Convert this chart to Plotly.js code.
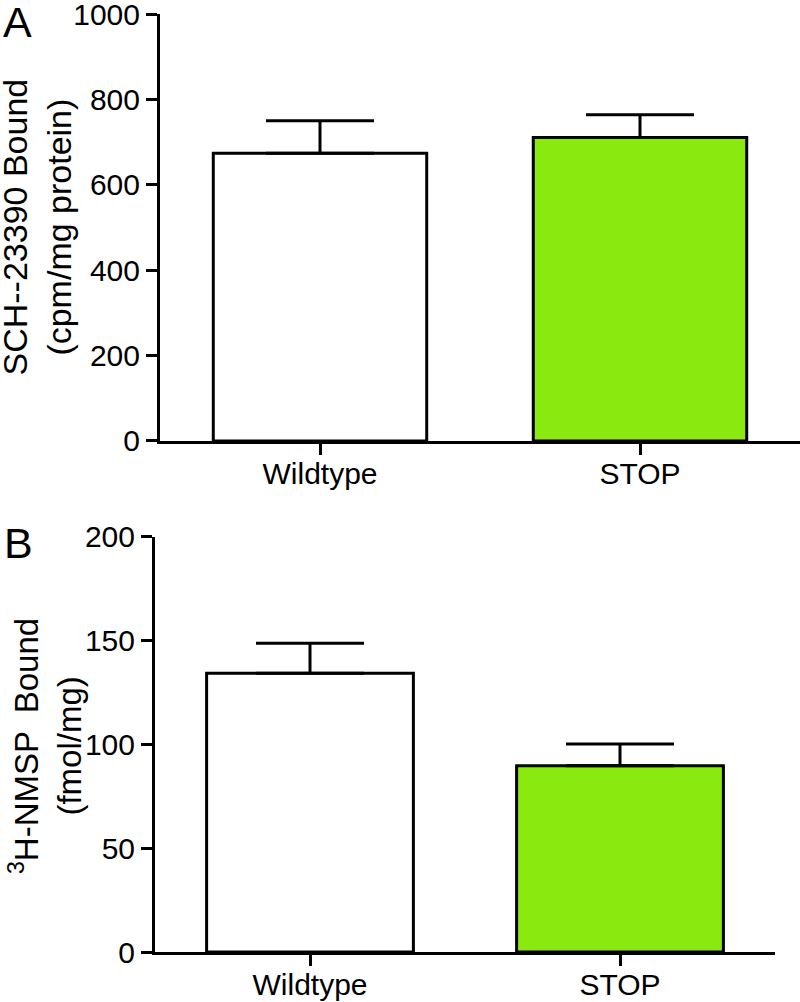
<!DOCTYPE html>
<html>
<head>
<meta charset="utf-8">
<script src="https://cdn.plot.ly/plotly-3.0.1.min.js"></script>
<style>html,body{margin:0;padding:0;background:#fff;}#chart{width:800px;height:1002px;}</style>
</head>
<body>
<div id="chart"></div>
<script>
// Data
var categories = ["Wildtype", "STOP"];
var barColors = ["#ffffff", "#8ae90e"];
// Panel A: SCH-23390 bound (cpm/mg protein)
var aValues = [674, 711];
var aErrors = [76, 53];
// Panel B: 3H-NMSP bound (fmol/mg)
var bValues = [134.3, 89.8];
var bErrors = [14.5, 10.4];
var aTicks = [0, 200, 400, 600, 800, 1000];
var bTicks = [0, 50, 100, 150, 200];

var FONT = "Arial, 'Liberation Sans', Helvetica, sans-serif";

function barTrace(vals, errs, xa, ya) {
  return {
    type: "bar",
    x: categories,
    y: vals,
    xaxis: xa,
    yaxis: ya,
    width: 0.667,
    marker: {color: barColors, line: {color: "#000", width: 3}},
    error_y: {type: "data", array: errs, arrayminus: errs.map(function(){return 0;}), symmetric: false,
              color: "#000", thickness: 3, width: 54},
    showlegend: false,
    hoverinfo: "skip"
  };
}

var traces = [
  barTrace(aValues, aErrors, "x", "y"),
  barTrace(bValues, bErrors, "x2", "y2")
];

function xAxis(domain, anchor) {
  return {
    domain: domain, anchor: anchor, range: [-0.5, 1.5], type: "category",
    showline: true, linecolor: "#000", linewidth: 3,
    ticks: "outside", ticklen: 11, tickwidth: 3, tickcolor: "#000",
    ticklabelstandoff: -7,
    tickfont: {family: FONT, size: 30, color: "#000"},
    showgrid: false, zeroline: false, fixedrange: true
  };
}
function yAxis(domain, anchor, range, ticks) {
  return {
    domain: domain, anchor: anchor, range: range,
    tickmode: "array", tickvals: ticks, ticktext: ticks.map(String),
    showline: true, linecolor: "#000", linewidth: 3,
    ticks: "outside", ticklen: 11, tickwidth: 3, tickcolor: "#000",
    ticklabeloverflow: "allow",
    tickfont: {family: FONT, size: 30, color: "#000"},
    showgrid: false, zeroline: false, fixedrange: true
  };
}

var layout = {
  width: 800, height: 1002,
  margin: {l: 0, r: 0, t: 0, b: 0},
  paper_bgcolor: "#fff", plot_bgcolor: "rgba(0,0,0,0)",
  bargap: 0.333,
  xaxis: xAxis([0.2, 1.0], "y"),
  yaxis: yAxis([0.5599, 0.986], "x", [0, 1000], aTicks),
  xaxis2: xAxis([0.19375, 0.96875], "y2"),
  yaxis2: yAxis([0.0499, 0.4641], "x2", [0, 200], bTicks),
  annotations: [
    {text: "A", xref: "paper", yref: "paper", x: 17/800, y: 1 - 22/1002, xanchor: "center", yanchor: "middle",
     showarrow: false, font: {family: FONT, size: 43, color: "#000"}},
    {text: "B", xref: "paper", yref: "paper", x: 18/800, y: 1 - 543/1002, xanchor: "center", yanchor: "middle",
     showarrow: false, font: {family: FONT, size: 43, color: "#000"}},
    {text: "SCH--23390 Bound<br>(cpm/mg protein)", xref: "paper", yref: "paper",
     x: 37/800, y: 1 - 227.5/1002, xanchor: "center", yanchor: "middle", textangle: -90,
     showarrow: false, font: {family: FONT, size: 34, color: "#000"}},
    {text: "<sup>3</sup>H-NMSP  Bound<br>(fmol/mg)", xref: "paper", yref: "paper",
     x: 45/800, y: 1 - 746/1002, xanchor: "center", yanchor: "middle", textangle: -90,
     showarrow: false, font: {family: FONT, size: 33, color: "#000"}}
  ]
};

Plotly.newPlot("chart", traces, layout, {staticPlot: true, displayModeBar: false});
</script>
</body>
</html>
